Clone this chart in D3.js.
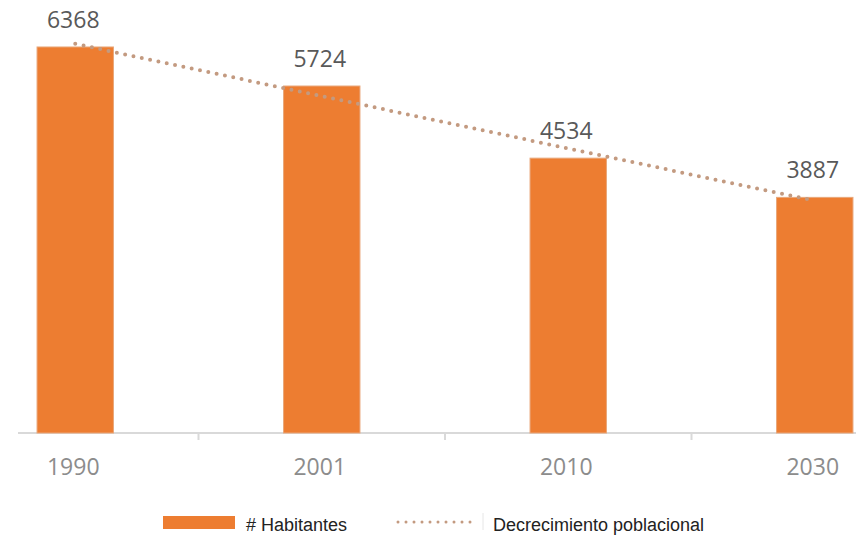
<!DOCTYPE html>
<html>
<head>
<meta charset="utf-8">
<script src="https://cdn.jsdelivr.net/npm/d3@7"></script>
<style>
  html, body { margin: 0; padding: 0; background: #fff; }
  svg { display: block; }
</style>
</head>
<body>
<svg id="chart" width="856" height="538"></svg>
<script>
// DATA
var years = ['1990', '2001', '2010', '2030'];
var habitantes = [6368, 5724, 4534, 3887];
var tendencia = [6420, 5557, 4694, 3831];
var legendLabels = ['# Habitantes', 'Decrecimiento poblacional'];

// SETTINGS
var settings = {
   barColor: '#ED7D31',
   barStroke: '#E9A77A',
   lineColor: '#C39A80',
   axisColor: '#D9D9D9',
   labelColor: '#595959',
   tickColor: '#8C8C8C',
   font: '"Open Sans", "DejaVu Sans", sans-serif'
};

var svg = d3.select('#chart');

// SCALES
var x = d3.scaleBand()
   .domain(years)
   .range([-48, 938])
   .paddingInner(0.69)
   .paddingOuter(0.345);

var y = d3.scaleLinear()
   .domain([0, 7143])
   .range([433, 0]);

// AXIS LINE + TICKS BETWEEN CATEGORIES
svg.append('line')
   .attr('x1', 18).attr('x2', 856)
   .attr('y1', y(0)).attr('y2', y(0))
   .attr('stroke', settings.axisColor)
   .attr('stroke-width', 2);

var step = x.step();
svg.selectAll('.tick-mark')
   .data(years.slice(1))
   .enter().append('line')
   .attr('class', 'tick-mark')
   .attr('x1', d => x(d) + x.bandwidth() / 2 - step / 2)
   .attr('x2', d => x(d) + x.bandwidth() / 2 - step / 2)
   .attr('y1', y(0))
   .attr('y2', y(0) + 7)
   .attr('stroke', settings.axisColor)
   .attr('stroke-width', 2);

// BARS
svg.selectAll('.bar')
   .data(habitantes)
   .enter().append('rect')
   .attr('class', 'bar')
   .attr('x', (d, i) => x(years[i]))
   .attr('y', d => y(d))
   .attr('width', x.bandwidth())
   .attr('height', d => y(0) - y(d))
   .attr('fill', settings.barColor)
   .attr('stroke', settings.barStroke)
   .attr('stroke-width', 1);

// TREND LINE
var line = d3.line()
   .x((d, i) => x(years[i]) + x.bandwidth() / 2)
   .y(d => y(d));

svg.append('path')
   .attr('d', line(tendencia))
   .attr('fill', 'none')
   .attr('stroke', settings.lineColor)
   .attr('stroke-width', 4)
   .attr('stroke-linecap', 'round')
   .attr('stroke-dasharray', '0 8.5');

// VALUE LABELS
svg.selectAll('.value')
   .data(habitantes)
   .enter().append('text')
   .attr('class', 'value')
   .attr('x', (d, i) => x(years[i]) + x.bandwidth() / 2 - 2)
   .attr('y', d => y(d) - 19)
   .attr('text-anchor', 'middle')
   .attr('font-family', settings.font)
   .attr('font-size', 23)
   .attr('fill', settings.labelColor)
   .text(d => d);

// CATEGORY LABELS
svg.selectAll('.year')
   .data(years)
   .enter().append('text')
   .attr('class', 'year')
   .attr('x', d => x(d) + x.bandwidth() / 2 - 2)
   .attr('y', 475)
   .attr('text-anchor', 'middle')
   .attr('font-family', settings.font)
   .attr('font-size', 23)
   .attr('fill', settings.tickColor)
   .text(d => d);

// LEGEND
var legend = svg.append('g').attr('font-family', 'Liberation Sans, Arial, sans-serif').attr('font-size', 18).attr('fill', '#222');

legend.append('rect')
   .attr('x', 163).attr('y', 516)
   .attr('width', 72).attr('height', 13)
   .attr('fill', settings.barColor);

legend.append('text')
   .attr('x', 246).attr('y', 531)
   .text(legendLabels[0]);

legend.append('line')
   .attr('x1', 398).attr('x2', 472)
   .attr('y1', 522).attr('y2', 522)
   .attr('stroke', settings.lineColor)
   .attr('stroke-width', 3)
   .attr('stroke-linecap', 'round')
   .attr('stroke-dasharray', '0 8');

legend.append('line')
   .attr('x1', 483).attr('x2', 483)
   .attr('y1', 513).attr('y2', 530)
   .attr('stroke', '#E6E6E6')
   .attr('stroke-width', 1);

legend.append('text')
   .attr('x', 493).attr('y', 531)
   .text(legendLabels[1]);
</script>
</body>
</html>
